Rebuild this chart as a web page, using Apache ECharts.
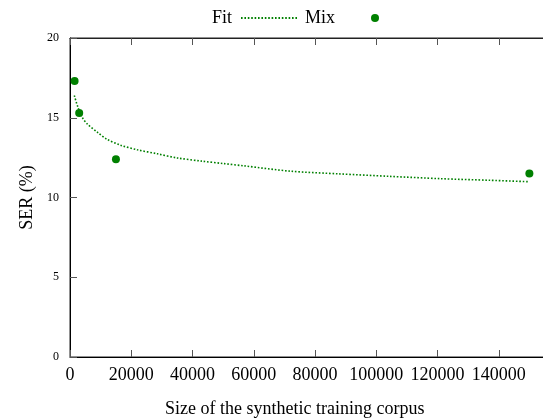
<!DOCTYPE html>
<html>
<head>
<meta charset="utf-8">
<script src="https://cdn.jsdelivr.net/npm/echarts@6/dist/echarts.min.js"></script>
<style>
html,body{margin:0;padding:0;background:#fff;}
#c{width:543px;height:419px;}
</style>
</head>
<body>
<div id="c"></div>
<script>
// Data
var fitX = [1400, 2500, 4000, 5700, 9000, 12000, 16500, 22000, 28500, 35000, 43000, 50000, 57000, 72000, 88000, 104000, 121000, 137000, 150000];
var fitY = [16.40, 15.71, 15.02, 14.60, 14.08, 13.66, 13.28, 12.99, 12.74, 12.48, 12.28, 12.13, 11.98, 11.65, 11.48, 11.33, 11.18, 11.08, 10.99];
var mixX = [1500, 3000, 15000, 150000];
var mixY = [17.3, 15.3, 12.4, 11.5];
var xTicks = [0, 20000, 40000, 60000, 80000, 100000, 120000, 140000];
var yTicks = [0, 5, 10, 15, 20];

var FONT = '"Liberation Serif", "DejaVu Serif", serif';
var GREEN = '#008000';

var fitData = fitX.map(function (x, i) { return [x, fitY[i]]; });
var mixData = mixX.map(function (x, i) { return [x, mixY[i]]; });

var chart = echarts.init(document.getElementById('c'), null, {renderer: 'canvas'});
var tickStyle = {show: true, inside: true, length: 7, lineStyle: {color: '#555', width: 1}};
chart.setOption({
  animation: false,
  backgroundColor: '#fff',
  grid: {left: 70, top: 38, width: 490, height: 319, containLabel: false, outerBoundsMode: 'none',
         show: true, borderColor: '#222', borderWidth: 1, backgroundColor: 'transparent'},
  legend: [{
    data: [{name: 'Fit', itemStyle: {opacity: 0}}], left: 207, top: 4, align: 'right',
    itemWidth: 57, itemHeight: 8,
    textStyle: {fontFamily: FONT, fontSize: 18, color: '#000', padding: [0, 4, 0, 0]}
  }, {
    data: ['Mix'], left: 300, top: 4, align: 'right',
    itemWidth: 70, itemHeight: 8,
    textStyle: {fontFamily: FONT, fontSize: 18, color: '#000'}
  }],
  xAxis: [{
    type: 'value', gridIndex: 0, position: 'bottom', min: 0, max: 160000, interval: 20000,
    axisLine: {show: true, onZero: false, lineStyle: {color: '#000', width: 1}},
    axisTick: tickStyle,
    splitLine: {show: false},
    axisLabel: {
      margin: 9, fontFamily: FONT, fontSize: 18, color: '#000',
      formatter: function (v) { return xTicks.indexOf(v) >= 0 ? String(v) : ''; }
    }
  }, {
    type: 'value', gridIndex: 0, position: 'top', offset: 0, show: true, min: 0, max: 160000, interval: 20000,
    axisLine: {show: true, onZero: false, lineStyle: {color: '#222', width: 1}},
    axisTick: tickStyle,
    splitLine: {show: false},
    axisLabel: {show: false}
  }],
  yAxis: [{
    type: 'value', gridIndex: 0, min: 0, max: 20, interval: 5,
    name: 'SER (%)', nameLocation: 'middle', nameGap: 32, nameRotate: 90,
    nameTextStyle: {fontFamily: FONT, fontSize: 18, color: '#000'},
    axisLine: {show: true, onZero: false, lineStyle: {color: '#000', width: 1}},
    axisTick: tickStyle,
    splitLine: {show: false},
    axisLabel: {
      margin: 11, fontFamily: FONT, fontSize: 12, color: '#000',
      formatter: function (v) { return yTicks.indexOf(v) >= 0 ? String(v) : ''; }
    }
  }],
  graphic: [{
    type: 'text', left: 165, top: 400,
    style: {text: 'Size of the synthetic training corpus', font: '18px ' + FONT, fill: '#000'}
  }],
  series: [{
    name: 'Fit', type: 'line', data: fitData, showSymbol: false, symbol: 'none',
    smooth: 0.3,
    lineStyle: {color: GREEN, width: 1.6, type: [1.6, 1.8]},
    itemStyle: {color: GREEN}
  }, {
    name: 'Mix', type: 'scatter', data: mixData, symbol: 'circle', symbolSize: 8,
    itemStyle: {color: GREEN, opacity: 1}
  }, {
    name: 'topAxisHolder', type: 'line', xAxisIndex: 1, yAxisIndex: 0, data: [[0, 0]], showSymbol: false,
    lineStyle: {opacity: 0}, silent: true
  }]
});
</script>
</body>
</html>
